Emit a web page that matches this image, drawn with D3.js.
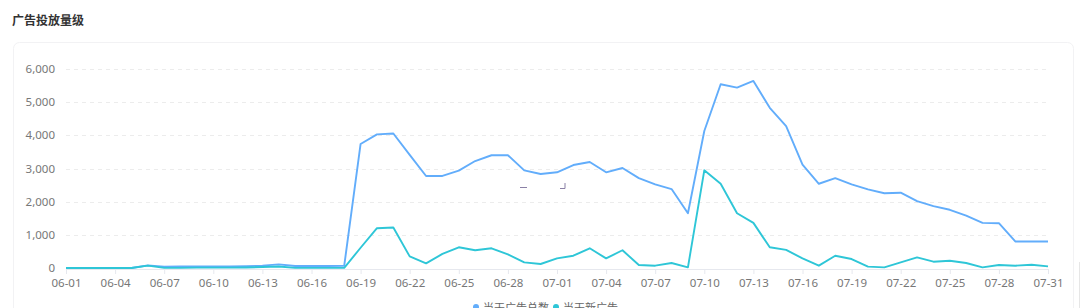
<!DOCTYPE html>
<html>
<head>
<meta charset="utf-8">
<script src="https://cdn.jsdelivr.net/npm/d3@7"></script>
<style>
  html, body { margin: 0; padding: 0; background: #fff; overflow: hidden; }
  svg { display: block; font-family: "Noto Sans", "Noto Sans CJK SC", sans-serif; }
</style>
</head>
<body>
<svg id="chart" width="1080" height="308"></svg>
<script>
// days 06-01 .. 07-31
var days = [];
for (var m = 6; m <= 7; m++) {
  var last = m == 6 ? 30 : 31;
  for (var d = 1; d <= last; d++) days.push("0" + m + "-" + (d < 10 ? "0" + d : d));
}

var totalAds = [0, 0, 0, 0, 0, 80, 40, 45, 50, 50, 50, 55, 70, 110, 60, 60, 60, 70,
  3740, 4030, 4055, 3410, 2775, 2775, 2935, 3225, 3400, 3400, 2945, 2835,
  2885, 3105, 3195, 2885, 3015, 2710, 2520, 2380, 1650, 4130,
  5540, 5440, 5640, 4830, 4275, 3115, 2540, 2710, 2520, 2370,
  2255, 2270, 2015, 1865, 1755, 1580, 1360, 1350, 800, 800, 800];
var newAds = [0, 0, 0, 0, 0, 70, 5, 5, 10, 10, 10, 15, 30, 45, 5, 5, 5, 5,
  610, 1200, 1220, 350, 140, 425, 625, 535, 595, 410, 170, 120,
  290, 370, 595, 290, 535, 90, 70, 150, 20, 2945,
  2540, 1650, 1360, 625, 545, 290, 70, 370, 270, 40,
  20, 170, 320, 190, 220, 150, 20, 90, 70, 100, 50];
var yTicks = [0, 1000, 2000, 3000, 4000, 5000, 6000];
var seriesNames = ["当天广告总数", "当天新广告"];
var seriesColors = ["#62adfb", "#2ec6d7"];

var svg = d3.select("#chart");
var plotLeft = 66, plotRight = 1048, plotTop = 69, plotBottom = 268;

// title + card
svg.append("text").attr("x", 12).attr("y", 25)
  .attr("font-size", 12).attr("font-weight", "bold").attr("fill", "#333")
  .attr("font-family", "Noto Sans CJK SC")
  .text("广告投放量级");
svg.append("rect").attr("x", 13.5).attr("y", 42.5).attr("width", 1060).attr("height", 300)
  .attr("rx", 6).attr("fill", "none").attr("stroke", "#f2f2f4");
svg.append("line").attr("x1", 1079.5).attr("x2", 1079.5).attr("y1", 262).attr("y2", 308)
  .attr("stroke", "#e6e6e6");

var x = d3.scalePoint().domain(days).range([plotLeft, plotRight]);
var y = d3.scaleLinear().domain([0, 6000]).range([plotBottom, plotTop]);

// grid
svg.append("g").selectAll("line").data(yTicks.slice(1)).enter().append("line")
  .attr("x1", plotLeft).attr("x2", plotRight)
  .attr("y1", function (d) { return Math.round(y(d)) + 0.5; })
  .attr("y2", function (d) { return Math.round(y(d)) + 0.5; })
  .attr("stroke", "#ececec").attr("stroke-dasharray", "4,4");

// y labels
svg.append("g").selectAll("text").data(yTicks).enter().append("text")
  .attr("x", 55).attr("y", function (d) { return y(d) + 4; })
  .attr("text-anchor", "end").attr("font-size", 11.5).attr("fill", "#777")
  .text(d3.format(","));

// x axis
var xAxis = d3.axisBottom(x)
  .tickValues(days.filter(function (d, i) { return i % 3 == 0; }))
  .tickSize(5).tickPadding(5);
var gx = svg.append("g").attr("transform", "translate(0," + (plotBottom + 1) + ")").call(xAxis);
gx.select(".domain").attr("stroke", "#e6e8ee").attr("d", "M" + plotLeft + ",0.5H" + plotRight);
gx.selectAll(".tick line").attr("stroke", "#e6e8ee");
gx.selectAll(".tick text").attr("font-size", 11.5).attr("fill", "#777")
  .attr("font-family", "Noto Sans, sans-serif");

// lines
var line = d3.line()
  .x(function (d, i) { return x(days[i]); })
  .y(function (d) { return y(d); });
[totalAds, newAds].forEach(function (s, k) {
  svg.append("path").datum(s)
    .attr("d", line).attr("fill", "none")
    .attr("stroke", seriesColors[k]).attr("stroke-width", 1.9)
    .attr("stroke-linejoin", "round");
});

// little leftover marks in the plot
svg.append("path").attr("d", "M520,187.5H527M565,183V188.5H560")
  .attr("fill", "none").attr("stroke", "#8a80a6").attr("stroke-width", 1);

// legend (cut off at the bottom)
var legendX = [476, 556];
var lg = svg.append("g").selectAll("g").data(seriesNames).enter().append("g")
  .attr("transform", function (d, i) { return "translate(" + legendX[i] + ",312)"; });
lg.append("circle").attr("r", 3).attr("cx", 0).attr("cy", -5)
  .attr("fill", function (d, i) { return seriesColors[i]; });
lg.append("text").attr("x", 7).attr("y", 0).attr("font-size", 11).attr("fill", "#666")
  .attr("font-family", "Noto Sans CJK SC")
  .text(function (d) { return d; });
</script>
</body>
</html>
